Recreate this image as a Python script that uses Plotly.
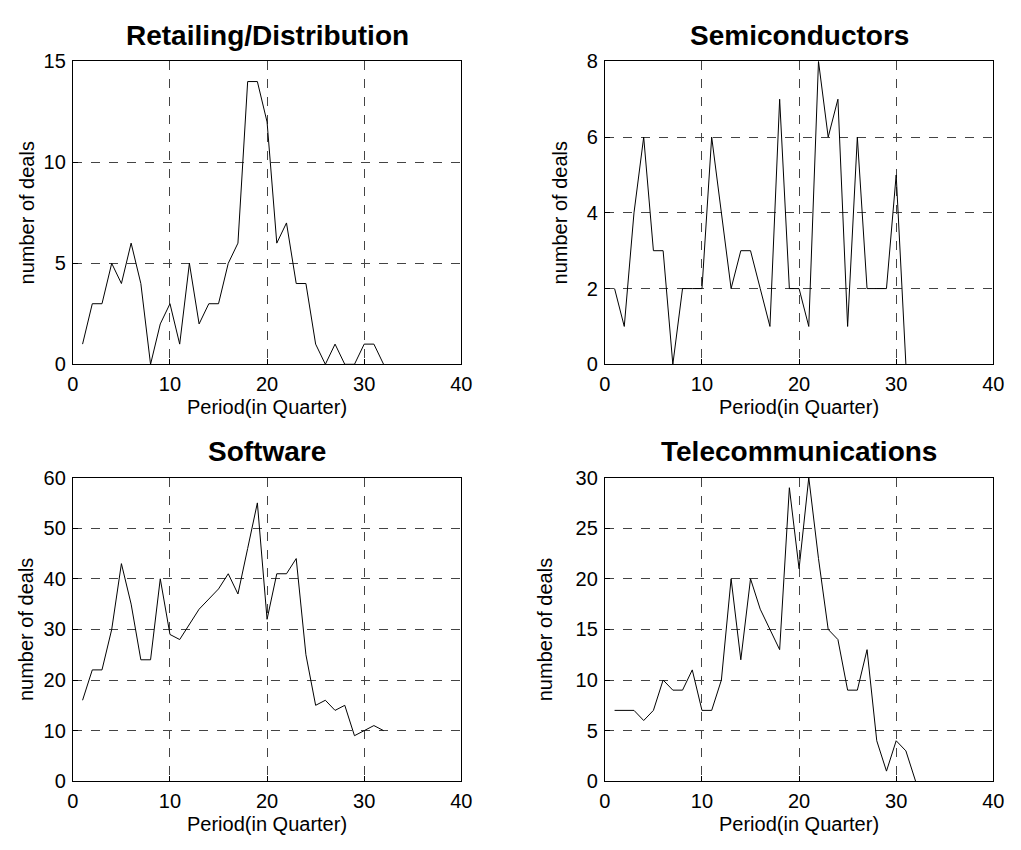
import plotly.graph_objects as go

periods = list(range(1, 33))
retail = [1, 3, 3, 5, 4, 6, 4, 0, 2, 3, 1, 5, 2, 3, 3, 5, 6, 14, 14, 12, 6, 7, 4, 4, 1, 0, 1, 0, 0, 1, 1, 0]
semis = [2, 1, 4, 6, 3, 3, 0, 2, 2, 2, 6, 4, 2, 3, 3, 2, 1, 7, 2, 2, 1, 8, 6, 7, 1, 6, 2, 2, 2, 5, 0]
software = [16, 22, 22, 30, 43, 35, 24, 24, 40, 29, 28, 31, 34, 36, 38, 41, 37, 46, 55, 32, 41, 41, 44, 25, 15, 16, 14, 15, 9, 10, 11, 10]
telecom = [7, 7, 7, 6, 7, 10, 9, 9, 11, 7, 7, 10, 20, 12, 20, 17, 15, 13, 29, 21, 30, 22, 15, 14, 9, 9, 13, 4, 1, 4, 3, 0]

titles = ["Retailing/Distribution", "Semiconductors", "Software", "Telecommunications"]
series = [retail, semis, software, telecom]
y_tops = [15, 8, 60, 30]
y_steps = [5, 2, 10, 5]
x_ticks = [0, 10, 20, 30, 40]
x_label = "Period(in Quarter)"
y_label = "number of deals"

W, H = 1021, 850
# plot boxes in pixels: (left, right, top, bottom)
boxes = [(68, 463, 51.7, 362.7), (609, 1004, 51.7, 362.7),
         (68, 463, 479, 790.7), (609, 1004, 479, 790.7)]
ylabel_x = [21, 563, 21, 549]
FONT = "Liberation Sans, Arial, sans-serif"

fig = go.Figure()
annotations = []
for i in range(4):
    n = i + 1
    xa = "x" if n == 1 else f"x{n}"
    ya = "y" if n == 1 else f"y{n}"
    ys = series[i]
    fig.add_trace(go.Scatter(x=periods[:len(ys)], y=ys, mode="lines",
                             line=dict(color="black", width=1),
                             xaxis=xa, yaxis=ya, showlegend=False, hoverinfo="skip"))
    l, r, t, b = boxes[i]
    xd = [l / W, r / W]
    yd = [1 - b / H, 1 - t / H]
    ax_common = dict(showline=True, mirror=True, linecolor="black", linewidth=1,
                     showgrid=True, gridcolor="#444444", griddash="dash", gridwidth=1,
                     zeroline=False, ticks="inside", ticklen=5, tickcolor="black",
                     tickfont=dict(family=FONT, size=20, color="black"))
    yticks = list(range(0, y_tops[i] + 1, y_steps[i]))
    fig.layout[f"xaxis{'' if n == 1 else n}"] = dict(
        domain=xd, range=[0, 40], tickmode="array", tickvals=x_ticks,
        anchor=ya, ticklabelstandoff=2, **ax_common)
    fig.layout[f"yaxis{'' if n == 1 else n}"] = dict(
        domain=yd, range=[0, y_tops[i]], tickmode="array", tickvals=yticks,
        anchor=xa, ticklabelstandoff=2, **ax_common)
    cx = (l + r) / 2
    # title
    annotations.append(dict(text=f"<b>{titles[i]}</b>", x=cx / W, y=1 - (t - 27) / H,
                            xref="paper", yref="paper", showarrow=False,
                            xanchor="center", yanchor="middle",
                            font=dict(family=FONT, size=28, color="black")))
    # x label
    annotations.append(dict(text=x_label, x=cx / W, y=1 - (b + 44) / H,
                            xref="paper", yref="paper", showarrow=False,
                            xanchor="center", yanchor="middle",
                            font=dict(family=FONT, size=20, color="black")))
    # y label
    annotations.append(dict(text=y_label, x=ylabel_x[i] / W, y=1 - ((t + b) / 2) / H,
                            xref="paper", yref="paper", showarrow=False, textangle=-90,
                            xanchor="center", yanchor="middle",
                            font=dict(family=FONT, size=20, color="black")))

fig.update_layout(width=W, height=H, margin=dict(l=0, r=0, t=0, b=0),
                  paper_bgcolor="white", plot_bgcolor="white",
                  annotations=annotations)
fig.write_html("out.html")
